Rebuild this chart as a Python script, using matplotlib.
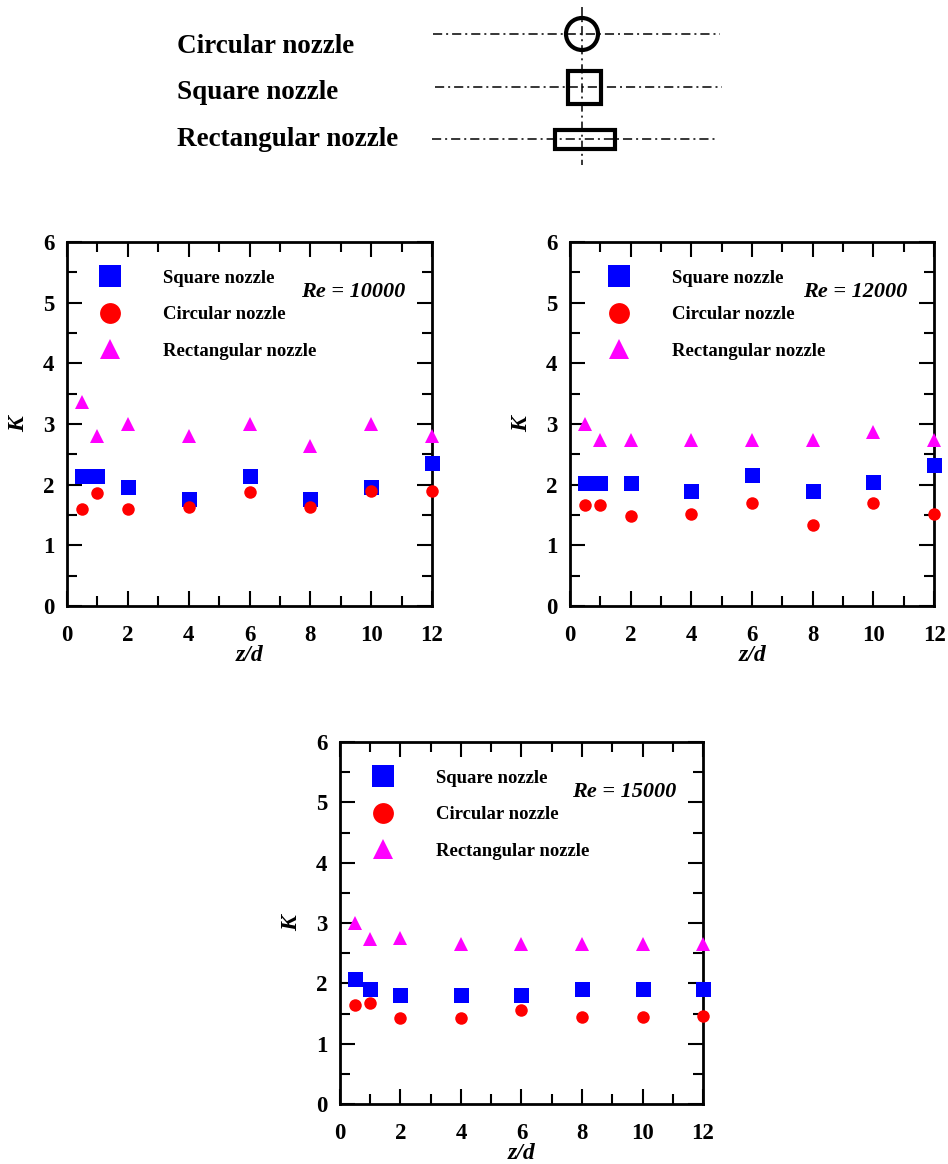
import matplotlib
matplotlib.use("Agg")
import matplotlib.pyplot as plt
from matplotlib.lines import Line2D
from matplotlib.patches import Circle, Rectangle
from matplotlib.ticker import MultipleLocator

plt.rcParams["font.family"] = ["Liberation Serif", "DejaVu Serif"]
plt.rcParams["font.weight"] = "bold"

# z/d stations
z_d = [0.5, 1, 2, 4, 6, 8, 10, 12]

# K values for each Reynolds number
k_square_10000 = [2.14, 2.14, 1.96, 1.77, 2.14, 1.77, 1.96, 2.35]
k_circular_10000 = [1.60, 1.87, 1.60, 1.63, 1.88, 1.63, 1.90, 1.90]
k_rect_10000 = [3.36, 2.81, 3.00, 2.81, 3.00, 2.63, 3.00, 2.81]

k_square_12000 = [2.03, 2.03, 2.03, 1.90, 2.16, 1.90, 2.04, 2.32]
k_circular_12000 = [1.67, 1.67, 1.49, 1.51, 1.69, 1.33, 1.70, 1.52]
k_rect_12000 = [3.00, 2.73, 2.73, 2.73, 2.73, 2.73, 2.87, 2.73]

k_square_15000 = [2.08, 1.90, 1.80, 1.80, 1.80, 1.90, 1.91, 1.90]
k_circular_15000 = [1.65, 1.67, 1.43, 1.43, 1.56, 1.45, 1.45, 1.46]
k_rect_15000 = [3.00, 2.74, 2.75, 2.66, 2.66, 2.66, 2.66, 2.66]

re_labels = ["Re = 10000", "Re = 12000", "Re = 15000"]
nozzle_names = ["Square nozzle", "Circular nozzle", "Rectangular nozzle"]
sketch_names = ["Circular nozzle", "Square nozzle", "Rectangular nozzle"]

fig = plt.figure(figsize=(9.48, 11.64), dpi=100)

# ---- nozzle sketch at the top (pixel coordinates) ----
sk = fig.add_axes([0, 0, 1, 1])
sk.set_xlim(0, 948)
sk.set_ylim(1164, 0)
sk.axis("off")

dashdot = (0, (6, 2.6, 1.3, 2.6))
for name, y_base in zip(sketch_names, [53, 99, 146]):
    sk.text(177, y_base, name, fontsize=19.5, fontweight="bold",
            ha="left", va="baseline")

for (x0, x1, y) in [(433, 720, 34), (435, 722, 87), (432, 717, 139)]:
    sk.plot([x0, x1], [y, y], color="black", lw=1.1, linestyle=dashdot)
sk.plot([582, 582], [7, 165], color="black", lw=1.1, linestyle=dashdot)

sk.add_patch(Circle((582, 34), 16, fill=False, lw=3, ec="black"))
sk.add_patch(Rectangle((568, 71), 33, 33, fill=False, lw=3, ec="black"))
sk.add_patch(Rectangle((555, 130), 60, 19, fill=False, lw=3, ec="black"))

# ---- K vs z/d panels ----
panels = [
    ([0.0707, 0.4794, 0.385, 0.3127], k_square_10000, k_circular_10000, k_rect_10000, 0.066),
    ([0.6013, 0.4794, 0.384, 0.3127], k_square_12000, k_circular_12000, k_rect_12000, 0.083),
    ([0.3586, 0.0515, 0.383, 0.3110], k_square_15000, k_circular_15000, k_rect_15000, 0.066),
]

styles = [
    ("s", "blue", 10.8, 16),
    ("o", "red", 9.0, 15),
    ("^", "magenta", 9.6, 14),
]

for (rect, k_sq, k_ci, k_re, leg_x), re_text in zip(panels, re_labels):
    ax = fig.add_axes(rect)
    handles = []
    for vals, (mk, col, ms, leg_ms), name in zip([k_sq, k_ci, k_re], styles, nozzle_names):
        ax.plot(z_d, vals, ls="none", marker=mk, color=col, ms=ms, mew=0,
                clip_on=False, zorder=3)
        handles.append(Line2D([], [], ls="none", marker=mk, color=col,
                              ms=leg_ms, mew=0, label=name))

    ax.set_xlim(0, 12)
    ax.set_ylim(0, 6)
    ax.xaxis.set_major_locator(MultipleLocator(2))
    ax.xaxis.set_minor_locator(MultipleLocator(1))
    ax.yaxis.set_major_locator(MultipleLocator(1))
    ax.yaxis.set_minor_locator(MultipleLocator(0.5))
    ax.tick_params(which="both", direction="in", top=True, right=True,
                   width=1.5, labelsize=16.5)
    ax.tick_params(which="major", length=11)
    ax.tick_params(which="minor", length=7)
    ax.tick_params(axis="x", which="major", pad=14)
    ax.tick_params(axis="y", which="major", pad=9)
    for sp in ax.spines.values():
        sp.set_linewidth(2)

    ax.set_xlabel("z/d", fontsize=17, fontstyle="italic", fontweight="bold")
    ax.set_ylabel("K", fontsize=17, fontstyle="italic", fontweight="bold")
    ax.xaxis.set_label_coords(0.5, -0.108)
    ax.yaxis.set_label_coords(-0.104, 0.5)

    ax.text(0.926, 0.862, re_text, transform=ax.transAxes, ha="right",
            va="center", fontsize=16, fontstyle="italic", fontweight="bold")

    ax.legend(handles=handles, loc="upper left", bbox_to_anchor=(leg_x, 0.924),
              frameon=False, fontsize=13.5, borderpad=0, borderaxespad=0,
              handlelength=2.0, handletextpad=1.83, labelspacing=1.04)

fig.savefig("out.png", dpi=100)
